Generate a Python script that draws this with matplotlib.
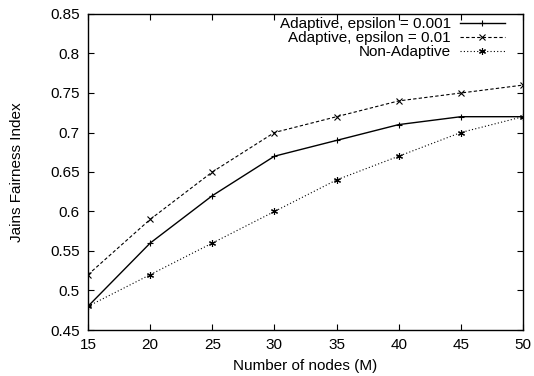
import matplotlib
matplotlib.use("Agg")
import matplotlib.pyplot as plt

# data
nodes = [15, 20, 25, 30, 35, 40, 45, 50]
adaptive_001 = [0.48, 0.56, 0.62, 0.67, 0.69, 0.71, 0.72, 0.72]
adaptive_01 = [0.52, 0.59, 0.65, 0.70, 0.72, 0.74, 0.75, 0.76]
non_adaptive = [0.48, 0.52, 0.56, 0.60, 0.64, 0.67, 0.70, 0.72]
yticks = [0.45, 0.5, 0.55, 0.6, 0.65, 0.7, 0.75, 0.8, 0.85]

plt.rcParams['font.family'] = ['Liberation Sans', 'DejaVu Sans']
plt.rcParams['font.size'] = 11

fig = plt.figure(figsize=(5.34, 3.76), dpi=100)
ax = fig.add_axes([88 / 534, 1 - 330 / 376, (523 - 88) / 534, (330 - 14) / 376])

ax.plot(nodes, adaptive_001, color='black', lw=1, linestyle='-', marker='+', ms=5, mew=0.8,
        label='Adaptive, epsilon = 0.001')
ax.plot(nodes, adaptive_01, color='black', lw=0.8, linestyle=(0, (3, 2)), marker='x', ms=4, mew=0.8,
        label='Adaptive, epsilon = 0.01')
ax.plot(nodes, non_adaptive, color='black', lw=0.8, linestyle=(0, (1, 2)), marker=(6, 2, 0), ms=5, mew=0.8,
        label='Non-Adaptive')

ax.set_xlim(15, 50)
ax.set_ylim(0.45, 0.85)
ax.set_xticks(nodes)
ax.set_yticks(yticks)
ax.set_yticklabels([('%g' % v) for v in yticks])
ax.tick_params(direction='in', top=True, right=True, length=4, width=0.8, pad=6)
for s in ax.spines.values():
    s.set_linewidth(1)

ax.set_xlabel('Number of nodes (M)', labelpad=5)
ax.set_ylabel('Jains Fairness Index', labelpad=19)

ax.legend(loc='upper right', bbox_to_anchor=(1 - 12 / 435, 1 + 3 / 316), frameon=False,
          markerfirst=False, handlelength=2.95, handletextpad=0.6, labelspacing=0.0,
          borderaxespad=0.0, fontsize=11)

fig.savefig('out.png', dpi=100)
